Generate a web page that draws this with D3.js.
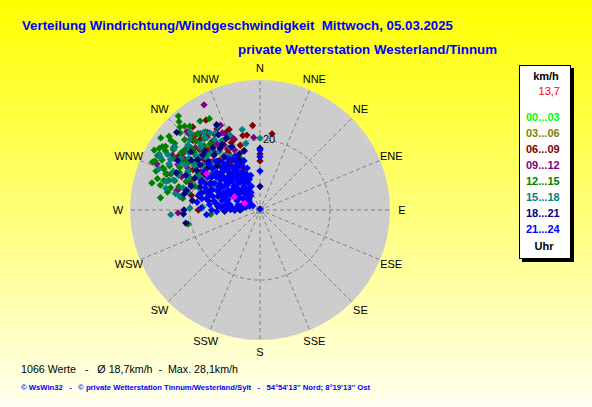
<!DOCTYPE html>
<html>
<head>
<meta charset="utf-8">
<script src="https://cdn.jsdelivr.net/npm/d3@7"></script>
<style>
  body { margin: 0; overflow: hidden; }
  svg { display: block; font-family: "Liberation Sans", Arial, sans-serif; }
</style>
</head>
<body>
<div id="chart"></div>
<script>
var titleText = "Verteilung Windrichtung/Windgeschwindigkeit  Mittwoch, 05.03.2025";
var subtitleText = "private Wetterstation Westerland/Tinnum";
var statsText = "1066 Werte   -   Ø 18,7km/h  -  Max. 28,1km/h";
var footerText = "© WsWin32   -   © private Wetterstation Tinnum/Westerland/Sylt   -   54°54'13'' Nord; 8°19'13'' Ost";

var directions = ["N", "NNE", "NE", "ENE", "E", "ESE", "SE", "SSE",
  "S", "SSW", "SW", "WSW", "W", "WNW", "NW", "NNW"];
var speedRings = [20];
var speedMax = 37.1;

var legendUnit = "km/h";
var legendCurrent = "13,7";
var hourBins = ["00...03", "03...06", "06...09", "09...12", "12...15", "15...18", "18...21", "21...24"];
var binColors = ["#00ff00", "#808000", "#800000", "#800080", "#008000", "#008080", "#000080", "#0000ff"];

// [direction in degrees, speed km/h]
var h00_03 = [];
var h03_06 = [];
var h06_09 = [
  [355, 24.2], [350, 21.7], [9, 22.0], [0, 16.0], [0, 14.0], [332, 19.6], [338, 12.7],
  [328, 13.5], [270, 17.6], [321, 30.5], [329, 29.9], [333, 14.5], [282, 20.0],
  [301, 22.3], [304, 25.8], [307, 19.4], [310, 27.1], [312, 21.6], [315, 24.3],
  [318, 17.2], [320, 26.4], [322, 20.7], [325, 23.9], [327, 15.6], [329, 25.2],
  [331, 18.8], [333, 22.4], [335, 16.1], [337, 20.9], [339, 24.6], [341, 14.7],
  [343, 19.3], [345, 17.6], [347, 21.8], [317, 12.9], [326, 11.7], [309, 14.8],
  [303, 27.9], [306, 23.1], [311, 25.1], [314, 19.8], [316, 27.6], [319, 22.7],
  [321, 18.3], [324, 25.7], [328, 21.3], [332, 26.2], [336, 24.1], [340, 21.5]
];
var h09_12 = [
  [332, 34.0], [317, 30.6], [335, 26.7], [312, 26.8], [355, 20.8], [268, 23.4],
  [317, 29.8], [294, 32.2], [284, 24.1], [283, 24.4], [291, 28.5],
  [291, 21.4], [294, 26.2], [297, 18.9], [300, 23.7], [303, 20.1], [306, 27.3],
  [308, 16.4], [311, 22.8], [314, 25.6], [316, 19.3], [319, 28.2], [321, 14.8],
  [323, 23.4], [326, 26.7], [328, 17.9], [331, 21.2], [334, 24.5], [337, 18.6],
  [339, 22.1], [302, 29.5], [313, 13.2], [324, 11.8],
  [296, 22.9], [299, 26.8], [305, 24.6], [309, 20.7], [312, 18.1], [315, 22.4],
  [318, 24.9], [320, 20.6], [322, 27.6], [325, 16.2], [327, 22.5], [330, 25.4],
  [333, 19.7], [336, 23.3], [293, 24.3]
];
var h12_15 = [
  [319, 35.5], [331, 29.8], [317.5, 34.2], [318, 32.2], [316, 32.9], [306, 35.0],
  [308, 32.3], [303, 33.2], [304, 32.5], [301.5, 33.7], [299.5, 34.7], [305, 30.1],
  [326, 30.6], [337, 22.8], [339, 15.9], [294, 33.6], [290.5, 31.7], [293.5, 30.3],
  [291, 28.8], [287, 28.7], [284, 29.3], [277, 28.6], [284, 26.3], [278.5, 22.3],
  [265, 14.1], [259, 20.9], [295, 33.1],
  [286, 24.1], [288, 27.3], [291, 22.6], [293, 29.8], [295, 25.4], [297, 31.4],
  [299, 23.2], [301, 28.6], [303, 26.1], [305, 30.2], [307, 22.9], [309, 27.5],
  [311, 24.8], [313, 29.4], [315, 21.7], [317, 26.9], [319, 24.3], [321, 28.1],
  [323, 23.6], [325, 27.2], [290, 19.8], [300, 20.4], [310, 19.5], [298, 33.1], [309, 33.4],
  [287, 30.6], [289, 25.7], [292, 27.4], [294, 21.3], [296, 28.7], [298, 25.9],
  [302, 31.8], [304, 24.4], [306, 27.8], [308, 30.9], [312, 26.3], [314, 31.7],
  [316, 24.6], [318, 28.9], [320, 31.2], [322, 25.9], [284, 31.8], [281, 26.9]
];
var h15_18 = [
  [347.5, 23.5], [0, 20.5], [348, 19.4], [298, 32.2], [327, 26.2], [338, 23.1],
  [267, 25.5], [271.5, 20.0], [273, 16.4], [330, 11.5], [306.5, 30.2], [299, 32.9],
  [301, 30.7], [289, 26.2], [279.5, 23.2], [299.5, 29.3],
  [281, 24.6], [284, 21.2], [287, 27.9], [290, 18.7], [293, 25.3], [295, 22.4],
  [297, 29.1], [299, 19.6], [301, 24.9], [303, 27.2], [305, 21.8], [307, 17.4],
  [309, 26.3], [311, 23.1], [313, 19.2], [315, 28.4], [317, 24.2], [319, 21.5],
  [321, 16.8], [323, 25.7], [325, 20.3], [327, 23.9], [329, 18.1], [331, 22.6],
  [333, 26.8], [335, 19.7], [288, 15.3], [296, 13.8], [304, 14.6], [312, 12.7],
  [320, 13.9], [292, 31.2], [306, 30.5], [318, 29.8],
  [294, 27.1], [298, 23.3], [300, 26.6], [302, 18.2], [304, 22.7], [306, 25.1],
  [308, 20.6], [310, 23.9], [312, 27.7], [314, 21.3], [316, 18.8], [318, 25.4],
  [322, 22.1], [324, 27.4], [326, 18.6], [328, 21.2], [330, 25.3], [332, 17.3],
  [283, 27.6], [286, 22.8]
];
var h18_21 = [
  [333, 27.3], [313, 32.5], [0, 17.6], [345, 17.4], [0, 6.7], [267, 21.9],
  [260, 21.5], [270, 5.7], [334, 9.2], [270, 21.7],
  [278, 19.5], [282, 22.1], [286, 17.3], [289, 20.8], [292, 15.2], [295, 23.4],
  [297, 18.6], [300, 13.4], [302, 21.3], [304, 16.7], [306, 24.2], [308, 11.8],
  [310, 19.1], [312, 14.6], [314, 22.7], [316, 17.5], [318, 12.3], [320, 20.4],
  [322, 15.9], [324, 9.8], [326, 18.3], [328, 13.7], [330, 21.6], [332, 16.2],
  [334, 11.4], [336, 19.8], [338, 14.3], [340, 17.1], [298, 9.5], [305, 8.2],
  [315, 7.4], [325, 6.8], [288, 12.6], [280, 14.9], [294, 26.1], [301, 27.4], [310, 25.8],
  [303, 18.9], [307, 21.4], [311, 16.3], [313, 20.2], [317, 23.1], [319, 18.4],
  [321, 13.2], [323, 22.3], [327, 20.9], [329, 16.8], [331, 24.5], [296, 20.7],
  [299, 16.1], [291, 18.2], [285, 21.7], [287, 15.1], [283, 18.0], [309, 22.8],
  [335, 22.6], [337, 15.7], [271, 8.4], [275, 12.1], [268, 10.1]
];
var h21_24 = [
  [0, 17.1], [0, 15.2], [0, 11.1], [0, 0.3], [265, 15.3], [273, 11.0], [274, 9.1],
  [300, 3.3], [326, 6.9],
  [276, 14.5], [279, 12.8], [282, 15.6], [284, 11.2], [286, 13.9], [288, 9.6],
  [289, 16.4], [291, 12.1], [293, 14.8], [294, 10.3], [296, 17.2], [297, 8.4],
  [299, 12.9], [300, 15.1], [301, 6.8], [302, 10.7], [303, 13.6], [305, 16.8],
  [306, 9.2], [307, 11.9], [308, 14.2], [309, 7.5], [310, 12.6], [311, 17.9],
  [312, 10.1], [313, 15.4], [314, 8.8], [315, 13.2], [316, 11.4], [317, 6.1],
  [318, 16.2], [319, 9.9], [320, 12.4], [321, 14.7], [322, 7.8], [323, 10.9],
  [324, 15.8], [325, 13.1], [326, 8.3], [327, 11.6], [328, 16.9], [329, 9.4],
  [330, 12.8], [331, 14.1], [332, 6.9], [333, 10.4], [334, 15.3], [335, 12.0],
  [336, 8.6], [338, 13.7], [339, 11.1], [341, 9.3], [343, 12.5], [345, 10.2],
  [280, 8.7], [283, 6.4], [287, 5.2], [292, 7.1], [298, 4.6], [304, 5.8],
  [309, 3.9], [315, 4.4], [320, 5.1], [326, 4.8], [333, 5.6], [340, 7.2],
  [285, 17.8], [295, 18.6], [305, 19.2], [273, 10.6], [274, 7.9], [290, 3.2],
  [300, 2.4], [312, 19.6], [318, 18.7], [272, 16.8], [277, 18.1], [296, 11.5],
  [303, 8.9], [311, 13.8], [319, 15.6], [327, 14.4], [335, 16.9],
  [278, 10.1], [281, 13.4], [285, 9.8], [287, 14.7], [290, 10.9], [292, 16.9],
  [294, 13.3], [297, 15.9], [299, 10.2], [302, 17.6], [304, 12.2], [307, 15.7],
  [308, 9.7], [310, 16.4], [313, 11.8], [316, 15.2], [319, 12.8], [322, 17.3],
  [325, 10.7], [328, 13.8], [331, 11.3], [334, 13.9], [337, 10.4], [342, 14.8],
  [284, 15.4], [276, 11.7], [281, 16.9],
  [268, 12.4], [271, 9.8], [275, 6.7], [278, 4.9], [270, 13.8], [276, 8.3],
  [282, 4.1], [269, 7.2], [273, 5.3]
];
var marked = [[304, 18.4], [297.5, 8.2], [293.5, 4.8]];

var series = [h00_03, h03_06, h06_09, h09_12, h12_15, h15_18, h18_21, h21_24];

var width = 592, height = 407;
var cx = 260, cy = 210, plotR = 130;

var svg = d3.select("#chart").append("svg")
  .attr("width", width)
  .attr("height", height);

var defs = svg.append("defs");
var bg = defs.append("linearGradient")
  .attr("id", "bg")
  .attr("x1", 0).attr("y1", 0).attr("x2", 0).attr("y2", 1);
bg.append("stop").attr("offset", "0%").attr("stop-color", "#ffff00");
bg.append("stop").attr("offset", "55%").attr("stop-color", "#ffff80");
bg.append("stop").attr("offset", "100%").attr("stop-color", "#fffff0");

var dots = defs.append("pattern")
  .attr("id", "dots")
  .attr("width", 4).attr("height", 4)
  .attr("patternUnits", "userSpaceOnUse");
dots.append("rect").attr("width", 4).attr("height", 4).attr("fill", "#cbcbcb");
dots.append("rect").attr("x", 1).attr("y", 1).attr("width", 1).attr("height", 1).attr("fill", "#d9d9d9");
dots.append("rect").attr("x", 3).attr("y", 3).attr("width", 1).attr("height", 1).attr("fill", "#d9d9d9");

svg.append("rect")
  .attr("width", width).attr("height", height)
  .attr("fill", "url(#bg)");

// titles
svg.append("text")
  .attr("x", 22).attr("y", 30)
  .attr("font-size", "13px").attr("font-weight", "bold")
  .attr("fill", "#0000ff")
  .attr("textLength", 431).attr("lengthAdjust", "spacingAndGlyphs")
  .style("white-space", "pre")
  .text(titleText);

svg.append("text")
  .attr("x", 238).attr("y", 53.5)
  .attr("font-size", "13px").attr("font-weight", "bold")
  .attr("fill", "#0000ff")
  .attr("textLength", 259).attr("lengthAdjust", "spacingAndGlyphs")
  .text(subtitleText);

// polar plot
var r = d3.scaleLinear().domain([0, speedMax]).range([0, plotR]);
var angle = d3.scaleLinear().domain([0, 360]).range([0, 2 * Math.PI]);
var px = (d) => cx + r(d[1]) * Math.sin(angle(d[0]));
var py = (d) => cy - r(d[1]) * Math.cos(angle(d[0]));

var plot = svg.append("g");

plot.append("circle")
  .attr("cx", cx).attr("cy", cy).attr("r", plotR)
  .attr("fill", "url(#dots)");

plot.selectAll(".spoke")
  .data(directions)
  .enter()
  .append("line")
  .attr("class", "spoke")
  .attr("x1", (d, i) => cx + 6 * Math.sin(angle(i * 22.5)))
  .attr("y1", (d, i) => cy - 6 * Math.cos(angle(i * 22.5)))
  .attr("x2", (d, i) => cx + plotR * Math.sin(angle(i * 22.5)))
  .attr("y2", (d, i) => cy - plotR * Math.cos(angle(i * 22.5)))
  .attr("stroke", "#808080")
  .attr("stroke-width", 1)
  .attr("stroke-dasharray", "4,3");

plot.selectAll(".ring")
  .data(speedRings)
  .enter()
  .append("circle")
  .attr("class", "ring")
  .attr("cx", cx).attr("cy", cy)
  .attr("r", (d) => r(d))
  .attr("fill", "none")
  .attr("stroke", "#808080")
  .attr("stroke-dasharray", "4,3");

plot.append("rect")
  .attr("x", cx - 4).attr("y", cy - 4)
  .attr("width", 8).attr("height", 8)
  .attr("fill", "#969696");

plot.selectAll(".dir-label")
  .data(directions)
  .enter()
  .append("text")
  .attr("class", "dir-label")
  .attr("x", (d, i) => cx + 142 * Math.sin(angle(i * 22.5)))
  .attr("y", (d, i) => cy - 142 * Math.cos(angle(i * 22.5)))
  .attr("dy", "0.35em")
  .attr("text-anchor", "middle")
  .attr("font-size", "11px")
  .attr("fill", "#000")
  .text((d) => d);

// wind points, diamonds
var diamond = d3.symbol().type(d3.symbolSquare).size(27);

series.forEach(function (s, i) {
  plot.append("g")
    .selectAll("path")
    .data(s)
    .enter()
    .append("path")
    .attr("d", diamond)
    .attr("transform", (d) => "translate(" + px(d) + "," + py(d) + ") rotate(45)")
    .attr("fill", binColors[i]);
});

plot.append("g")
  .selectAll("path")
  .data(marked)
  .enter()
  .append("path")
  .attr("d", diamond)
  .attr("transform", (d) => "translate(" + px(d) + "," + py(d) + ") rotate(45)")
  .attr("fill", "#ff00ff");

plot.selectAll(".ring-label")
  .data(speedRings)
  .enter()
  .append("text")
  .attr("class", "ring-label")
  .attr("x", cx + 3)
  .attr("y", (d) => cy - r(d) + 3)
  .attr("font-size", "11px")
  .attr("fill", "#000")
  .text((d) => d);

// legend
var lg = svg.append("g");
lg.append("rect")
  .attr("x", 522).attr("y", 68)
  .attr("width", 52).attr("height", 194)
  .attr("fill", "#000");
lg.append("rect")
  .attr("x", 519.5).attr("y", 65.5)
  .attr("width", 51).attr("height", 193)
  .attr("fill", "#fff")
  .attr("stroke", "#000");

lg.append("text")
  .attr("x", 546).attr("y", 76).attr("dy", "0.35em")
  .attr("text-anchor", "middle")
  .attr("font-size", "11px").attr("font-weight", "bold")
  .text(legendUnit);

lg.append("text")
  .attr("x", 560).attr("y", 91).attr("dy", "0.35em")
  .attr("text-anchor", "end")
  .attr("font-size", "11px")
  .attr("fill", "#ff0000")
  .text(legendCurrent);

lg.selectAll(".bin")
  .data(hourBins)
  .enter()
  .append("text")
  .attr("class", "bin")
  .attr("x", 526)
  .attr("y", (d, i) => 117.5 + i * 16)
  .attr("dy", "0.35em")
  .attr("font-size", "11px").attr("font-weight", "bold")
  .attr("fill", (d, i) => binColors[i])
  .text((d) => d);

lg.append("text")
  .attr("x", 544).attr("y", 246).attr("dy", "0.35em")
  .attr("text-anchor", "middle")
  .attr("font-size", "11px").attr("font-weight", "bold")
  .text("Uhr");

// bottom texts
svg.append("text")
  .attr("x", 21).attr("y", 373)
  .attr("font-size", "11px")
  .attr("fill", "#000")
  .attr("textLength", 217).attr("lengthAdjust", "spacingAndGlyphs")
  .style("white-space", "pre")
  .text(statsText);

svg.append("text")
  .attr("x", 21).attr("y", 389.5)
  .attr("font-size", "8px").attr("font-weight", "bold")
  .attr("fill", "#0000ff")
  .attr("textLength", 349).attr("lengthAdjust", "spacingAndGlyphs")
  .style("white-space", "pre")
  .text(footerText);
</script>
</body>
</html>
